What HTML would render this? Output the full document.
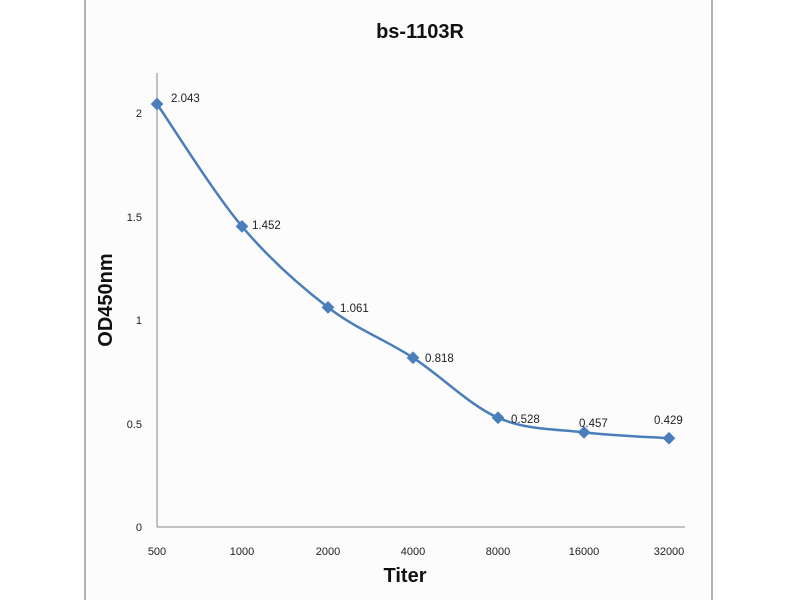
<!DOCTYPE html>
<html><head><style>
html,body{margin:0;padding:0;background:#fff;}
</style></head><body>
<svg width="800" height="600" xmlns="http://www.w3.org/2000/svg" style="display:block">
<rect x="0" y="0" width="800" height="600" fill="#ffffff"/>
<rect x="85" y="-2" width="627" height="610" fill="#fcfcfc" stroke="#9a9a9a" stroke-width="1.5"/>
<text x="420" y="38" text-anchor="middle" font-family="Liberation Sans, sans-serif" font-weight="bold" font-size="20" fill="#111">bs-1103R</text>
<line x1="157" y1="73" x2="157" y2="527" stroke="#888" stroke-width="1"/>
<line x1="157" y1="527" x2="685" y2="527" stroke="#888" stroke-width="1"/>
<g font-family="Liberation Sans, sans-serif" font-size="11" fill="#222" text-anchor="end">
<text x="142" y="531">0</text>
<text x="142" y="428">0.5</text>
<text x="142" y="324">1</text>
<text x="142" y="221">1.5</text>
<text x="142" y="117">2</text>
</g>
<g font-family="Liberation Sans, sans-serif" font-size="11" fill="#222" text-anchor="middle">
<text x="157" y="555">500</text>
<text x="242" y="555">1000</text>
<text x="328" y="555">2000</text>
<text x="413" y="555">4000</text>
<text x="498" y="555">8000</text>
<text x="584" y="555">16000</text>
<text x="669" y="555">32000</text>
</g>
<text x="405" y="582" text-anchor="middle" font-family="Liberation Sans, sans-serif" font-weight="bold" font-size="20" fill="#111">Titer</text>
<text transform="translate(112,300) rotate(-90)" text-anchor="middle" font-family="Liberation Sans, sans-serif" font-weight="bold" font-size="20" fill="#111">OD450nm</text>
<path d="M157,104 C171.2,124.4 213.5,192.5 242,226.4 C270.5,260.3 299.5,285.5 328,307.4 C356.5,329.3 384.7,339.3 413,357.7 C441.3,376.1 469.5,405.25 498,417.7 C526.5,430.15 555.5,429 584,432.4 C612.5,435.8 654.8,437.2 669,438.2" fill="none" stroke="#4a7ebb" stroke-width="2.5"/>
<g fill="#4a7ebb">
<rect x="152.5" y="99.5" width="9" height="9" transform="rotate(45 157 104)"/>
<rect x="237.5" y="221.9" width="9" height="9" transform="rotate(45 242 226.4)"/>
<rect x="323.5" y="302.9" width="9" height="9" transform="rotate(45 328 307.4)"/>
<rect x="408.5" y="353.2" width="9" height="9" transform="rotate(45 413 357.7)"/>
<rect x="493.5" y="413.2" width="9" height="9" transform="rotate(45 498 417.7)"/>
<rect x="579.5" y="427.9" width="9" height="9" transform="rotate(45 584 432.4)"/>
<rect x="664.5" y="433.7" width="9" height="9" transform="rotate(45 669 438.2)"/>
</g>
<g font-family="Liberation Sans, sans-serif" font-size="11.5" fill="#222">
<text x="171" y="102">2.043</text>
<text x="252" y="229">1.452</text>
<text x="340" y="312">1.061</text>
<text x="425" y="362">0.818</text>
<text x="511" y="423">0.528</text>
<text x="579" y="427">0.457</text>
<text x="654" y="424">0.429</text>
</g>
</svg>
</body></html>
